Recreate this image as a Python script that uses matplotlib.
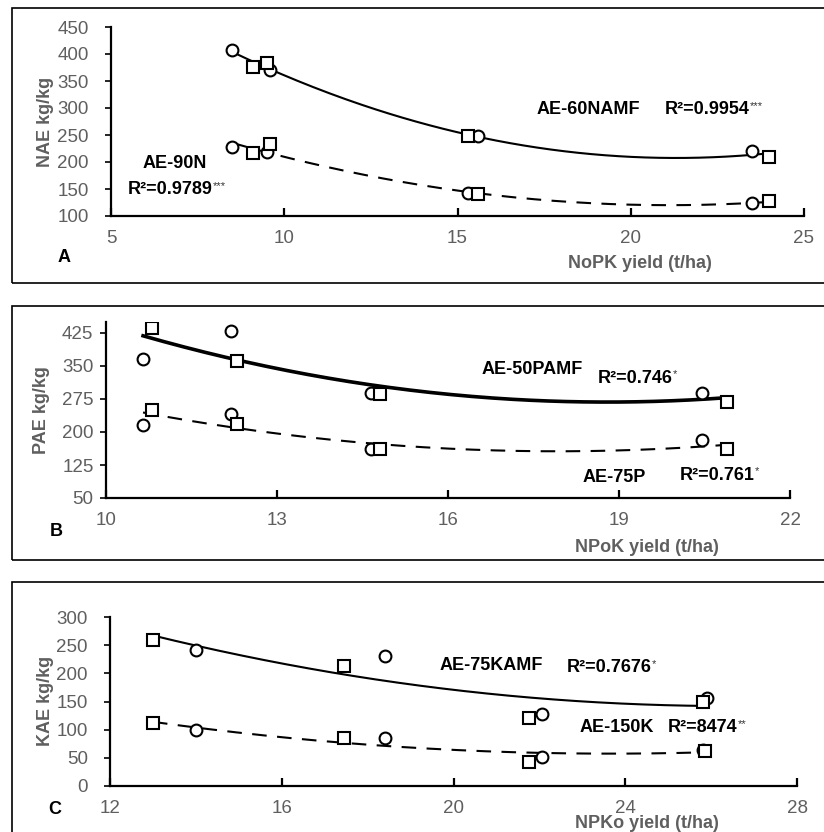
import numpy as np
import matplotlib.pyplot as plt
from matplotlib.patches import Rectangle

# Panel A: NAE vs NoPK yield
a_amf_circ_x = [8.5, 9.6, 15.6, 23.5]
a_amf_circ_y = [407, 370, 248, 220]
a_amf_sq_x = [9.1, 9.5, 15.3, 24.0]
a_amf_sq_y = [376, 383, 248, 210]
a_n_circ_x = [8.5, 9.5, 15.3, 23.5]
a_n_circ_y = [228, 219, 143, 124]
a_n_sq_x = [9.1, 9.6, 15.6, 24.0]
a_n_sq_y = [217, 233, 140, 127]

# Panel B: PAE vs NPoK yield
b_amf_circ_x = [10.65, 12.2, 14.65, 20.45]
b_amf_circ_y = [366, 430, 289, 289]
b_amf_sq_x = [10.8, 12.3, 14.8, 20.9]
b_amf_sq_y = [436, 361, 286, 269]
b_p_circ_x = [10.65, 12.2, 14.65, 20.45]
b_p_circ_y = [216, 241, 161, 181]
b_p_sq_x = [10.8, 12.3, 14.8, 20.9]
b_p_sq_y = [250, 218, 161, 161]

# Panel C: KAE vs NPKo yield
c_amf_circ_x = [14.0, 18.4, 22.05, 25.9]
c_amf_circ_y = [241, 231, 128, 156]
c_amf_sq_x = [13.0, 17.45, 21.75, 25.8]
c_amf_sq_y = [259, 213, 121, 149]
c_k_circ_x = [14.0, 18.4, 22.05, 25.8]
c_k_circ_y = [99, 85, 52, 64]
c_k_sq_x = [13.0, 17.45, 21.75, 25.85]
c_k_sq_y = [112, 85, 43, 63]

W, H = 824, 832
GRAY = '#5f5f5f'
FS = 13.5

fig = plt.figure(figsize=(W / 100, H / 100), dpi=100)
plt.rcParams['font.family'] = ['Liberation Sans', 'DejaVu Sans']


def fx(x):
    return x / W


def fy(y):
    return 1 - y / H


def add_axes(l, r, b, t):
    return fig.add_axes([fx(l), fy(b), fx(r) - fx(l), (b - t) / H])


def trend(ax, xs, ys, ls, lw):
    xs = np.asarray(xs, float)
    ys = np.asarray(ys, float)
    c = np.polyfit(xs, ys, 2)
    xx = np.linspace(xs.min(), xs.max(), 200)
    if ls == 'dash':
        ax.plot(xx, np.polyval(c, xx), color='black', lw=lw, dashes=(7, 5), zorder=2)
    else:
        ax.plot(xx, np.polyval(c, xx), color='black', lw=lw, zorder=2)


def pts(ax, x, y, m):
    ax.plot(x, y, ls='none', marker=m, ms=8.5, mfc='white', mec='black', mew=1.5, zorder=3)


def style(ax, xlim, xticks, ylim, yticks, ypad):
    ax.set_xlim(*xlim)
    ax.set_ylim(*ylim)
    ax.set_xticks(xticks)
    ax.set_yticks(yticks)
    for s in ['top', 'right']:
        ax.spines[s].set_visible(False)
    for s in ['left', 'bottom']:
        ax.spines[s].set_linewidth(1.6)
    ax.tick_params(axis='x', direction='in', length=6, width=1.6, pad=10,
                   labelsize=FS, labelcolor=GRAY)
    ax.tick_params(axis='y', direction='out', length=4, width=1.2, pad=ypad,
                   labelsize=FS, labelcolor=GRAY)
    ax.patch.set_alpha(0)


def txt(x, y, s, stars=None, **kw):
    t = fig.text(fx(x), fy(y), s, fontsize=13, fontweight='bold', va='center', **kw)
    if stars:
        fig.axes[0].annotate(stars, xy=(1, 1), xycoords=t, ha='left', va='top',
                             fontsize=8, color='#333333')
    return t


# panel frames
for (y0, y1) in [(8, 283), (306, 560), (582, 840)]:
    fig.patches.append(Rectangle((fx(12), fy(y1)), fx(830) - fx(12), (y1 - y0) / H,
                                 transform=fig.transFigure, fill=False,
                                 edgecolor='black', lw=1.2))

# ---- Panel A
ax1 = add_axes(111, 804, 216, 27)
trend(ax1, a_amf_circ_x + a_amf_sq_x, a_amf_circ_y + a_amf_sq_y, 'solid', 1.5)
trend(ax1, a_n_circ_x + a_n_sq_x, a_n_circ_y + a_n_sq_y, 'dash', 1.5)
pts(ax1, a_amf_circ_x, a_amf_circ_y, 'o')
pts(ax1, a_amf_sq_x, a_amf_sq_y, 's')
pts(ax1, a_n_circ_x, a_n_circ_y, 'o')
pts(ax1, a_n_sq_x, a_n_sq_y, 's')
style(ax1, (5, 25), [5, 10, 15, 20, 25], (100, 450), range(100, 451, 50), 12)

# ---- Panel B
ax2 = add_axes(106, 790, 498, 322)
trend(ax2, b_amf_circ_x + b_amf_sq_x, b_amf_circ_y + b_amf_sq_y, 'solid', 2.6)
trend(ax2, b_p_circ_x + b_p_sq_x, b_p_circ_y + b_p_sq_y, 'dash', 1.5)
pts(ax2, b_amf_circ_x, b_amf_circ_y, 'o')
pts(ax2, b_amf_sq_x, b_amf_sq_y, 's')
pts(ax2, b_p_circ_x, b_p_circ_y, 'o')
pts(ax2, b_p_sq_x, b_p_sq_y, 's')
style(ax2, (10, 22), [10, 13, 16, 19, 22], (50, 450), range(50, 426, 75), 5)

# ---- Panel C
ax3 = add_axes(110, 797, 786, 617)
trend(ax3, c_amf_circ_x + c_amf_sq_x, c_amf_circ_y + c_amf_sq_y, 'solid', 1.5)
trend(ax3, c_k_circ_x + c_k_sq_x, c_k_circ_y + c_k_sq_y, 'dash', 1.5)
pts(ax3, c_amf_circ_x, c_amf_circ_y, 'o')
pts(ax3, c_amf_sq_x, c_amf_sq_y, 's')
pts(ax3, c_k_circ_x, c_k_circ_y, 'o')
pts(ax3, c_k_sq_x, c_k_sq_y, 's')
style(ax3, (12, 28), [12, 16, 20, 24, 28], (0, 300), range(0, 301, 50), 12)

# axis titles
for (x, y, s) in [(45, 122, 'NAE kg/kg'), (42, 410, 'PAE kg/kg'), (46, 701, 'KAE kg/kg')]:
    fig.text(fx(x), fy(y), s, rotation=90, ha='center', va='center',
             fontsize=13, fontweight='bold', color=GRAY)
for (x, y, s) in [(640, 263, 'NoPK yield (t/ha)'), (647, 548, 'NPoK yield (t/ha)'),
                  (647, 823, 'NPKo yield (t/ha)')]:
    fig.text(fx(x), fy(y), s, ha='center', va='center',
             fontsize=13, fontweight='bold', color=GRAY)

# panel letters
txt(58, 257, 'A')
txt(50, 532, 'B')
txt(48, 810, 'C')

# equation labels
txt(143, 163, 'AE-90N')
txt(128, 190, 'R²=0.9789', '***')
txt(537, 110, 'AE-60NAMF')
txt(665, 110, 'R²=0.9954', '***')
txt(482, 370, 'AE-50PAMF')
txt(598, 378, 'R²=0.746', '*')
txt(583, 478, 'AE-75P')
txt(680, 475, 'R²=0.761', '*')
txt(440, 665, 'AE-75KAMF')
txt(567, 668, 'R²=0.7676', '*')
txt(580, 728, 'AE-150K')
txt(668, 728, 'R²=8474', '**')

fig.savefig('out.png', dpi=100)
